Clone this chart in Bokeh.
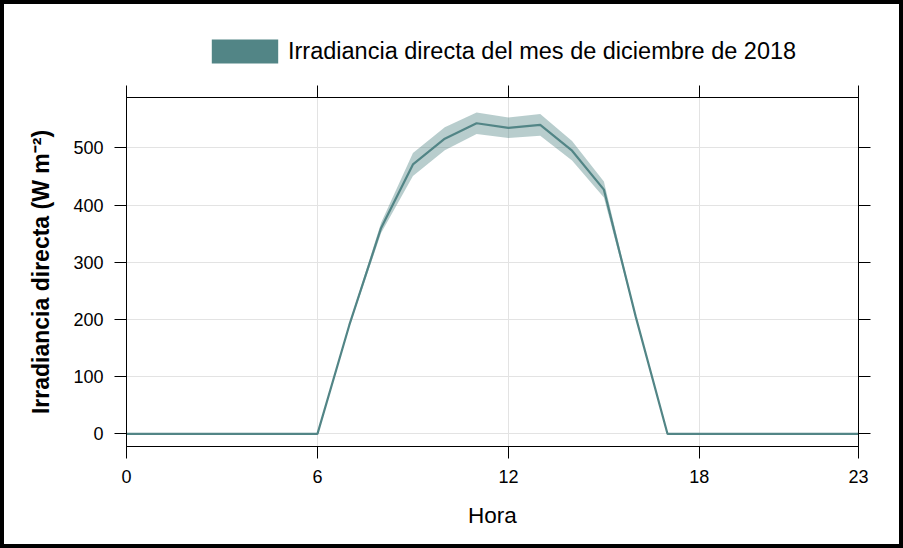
from bokeh.plotting import figure
from bokeh.layouts import column
from bokeh.models import (Range1d, FixedTicker, LinearAxis, Legend, LegendItem,
                          ColumnDataSource)
from bokeh.embed import file_html
from bokeh.resources import INLINE

# ---- data ----
hours = list(range(24))
mean_irr = [0, 0, 0, 0, 0, 0, 0, 190, 360, 471, 516, 543, 535, 540, 495, 427, 205,
            0, 0, 0, 0, 0, 0, 0]
lower_irr = [0, 0, 0, 0, 0, 0, 0, 187, 351, 451, 496, 524, 517, 521, 478, 413, 203,
             0, 0, 0, 0, 0, 0, 0]
upper_irr = [0, 0, 0, 0, 0, 0, 0, 193, 369, 491, 536, 562, 553, 559, 512, 441, 207,
             0, 0, 0, 0, 0, 0, 0]
x_ticks = [0, 6, 12, 18, 23]
y_ticks = [0, 100, 200, 300, 400, 500]
legend_label = "Irradiancia directa del mes de diciembre de 2018"
x_label = "Hora"
y_label = "Irradiancia directa (W m\u207b\u00b2)"

src = ColumnDataSource(dict(hora=hours, media=mean_irr, inf=lower_irr, sup=upper_irr))

TEAL = "#528586"
FONT = "Liberation Sans"

# ---- key strip (legend) ----
kf = figure(width=903, height=70, output_backend="svg", toolbar_location=None,
            x_range=Range1d(0, 23), y_range=Range1d(-22, 588),
            x_axis_location=None, y_axis_location=None,
            min_border_left=0, min_border_right=0, min_border_top=0,
            min_border_bottom=0)
kf.grid.visible = False
kf.outline_line_color = None
kf.background_fill_color = None
kf.border_fill_color = None
swatch = kf.varea(x="hora", y1="inf", y2="sup", source=src, fill_color=TEAL,
                  fill_alpha=1.0, visible=False)
legend = Legend(items=[LegendItem(label=legend_label, renderers=[swatch])],
                location=(77, 4), orientation="horizontal",
                glyph_width=83, glyph_height=30, label_standoff=2,
                padding=0, margin=0, spacing=0,
                border_line_color=None, background_fill_alpha=0,
                label_text_font=FONT, label_text_font_size="23.5px",
                label_text_color="black")
kf.add_layout(legend)

# ---- main plot ----
p = figure(width=903, height=478, output_backend="svg", toolbar_location=None,
           x_range=Range1d(0, 23), y_range=Range1d(-22, 588),
           min_border_left=126, min_border_right=45, min_border_top=27,
           min_border_bottom=102)
p.background_fill_color = "white"
p.border_fill_color = None
p.outline_line_color = "black"
p.outline_line_width = 1

p.varea(x="hora", y1="inf", y2="sup", source=src, fill_color=TEAL, fill_alpha=0.41)
p.line(x="hora", y="media", source=src, line_color=TEAL, line_width=2.2)

p.add_layout(LinearAxis(), "right")
p.add_layout(LinearAxis(), "above")

for ax in p.axis:
    ax.axis_line_color = "black"
    ax.major_tick_line_color = "black"
    ax.major_tick_out = 12
    ax.major_tick_in = 0
    ax.minor_tick_line_color = None
    ax.major_label_text_font = FONT
    ax.major_label_text_font_size = "18px"
    ax.major_label_text_color = "black"

p.below[0].ticker = FixedTicker(ticks=x_ticks)
p.above[0].ticker = FixedTicker(ticks=x_ticks)
p.left[0].ticker = FixedTicker(ticks=y_ticks)
p.right[0].ticker = FixedTicker(ticks=y_ticks)
p.above[0].major_label_overrides = {t: "" for t in x_ticks}
p.right[0].major_label_overrides = {t: "" for t in y_ticks}
p.above[0].major_label_standoff = 0
p.right[0].major_label_standoff = 0

p.below[0].major_label_standoff = 11
p.below[0].axis_label = x_label
p.below[0].axis_label_text_font = FONT
p.below[0].axis_label_text_font_size = "22.5px"
p.below[0].axis_label_text_font_style = "normal"
p.below[0].axis_label_text_color = "black"
p.below[0].axis_label_standoff = 17

p.left[0].major_label_standoff = 11
p.left[0].axis_label = y_label
p.left[0].axis_label_text_font = FONT
p.left[0].axis_label_text_font_size = "23px"
p.left[0].axis_label_text_font_style = "bold"
p.left[0].axis_label_text_color = "black"
p.left[0].axis_label_standoff = 16

p.xgrid.ticker = FixedTicker(ticks=x_ticks)
p.ygrid.ticker = FixedTicker(ticks=y_ticks)
p.grid.grid_line_color = "#e3e3e3"
p.grid.grid_line_width = 1

page = column(kf, p, spacing=0,
              styles={"box-shadow": "inset 0 0 0 4px black", "background": "white"})

open("out.html", "w").write(file_html(page, INLINE))
